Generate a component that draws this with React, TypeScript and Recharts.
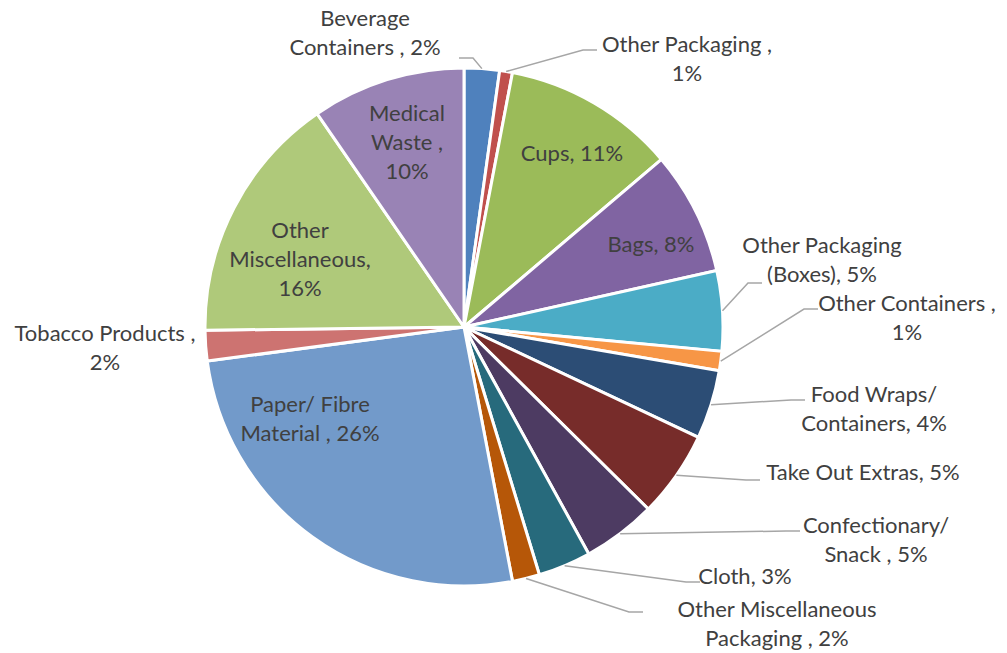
import React from 'react';
import { PieChart, Pie, Cell } from 'recharts';

const categories = [
  'Beverage Containers', 'Other Packaging', 'Cups', 'Bags', 'Other Packaging (Boxes)',
  'Other Containers', 'Food Wraps/ Containers', 'Take Out Extras', 'Confectionary/ Snack', 'Cloth',
  'Other Miscellaneous Packaging', 'Paper/ Fibre Material', 'Tobacco Products', 'Other Miscellaneous', 'Medical Waste',
];
const shares = [2.2, 0.8, 10.8, 7.7, 5.0, 1.2, 4.3, 5.4, 4.6, 3.3, 1.7, 25.9, 1.9, 15.6, 9.6];

// label text broken into lines, the percentage goes on the end of the last one
const labelLines = [
  ['Beverage', 'Containers , '],
  ['Other Packaging ,', ''],
  ['Cups, '],
  ['Bags, '],
  ['Other Packaging', '(Boxes), '],
  ['Other Containers ,', ''],
  ['Food Wraps/', 'Containers, '],
  ['Take Out Extras, '],
  ['Confectionary/', 'Snack , '],
  ['Cloth, '],
  ['Other Miscellaneous', 'Packaging , '],
  ['Paper/ Fibre', 'Material , '],
  ['Tobacco Products ,', ''],
  ['Other', 'Miscellaneous,', ''],
  ['Medical', 'Waste ,', ''],
];

const colors = [
  '#4F81BD', '#C0504D', '#9BBB59', '#8064A2', '#4BACC6', '#F79646', '#2C4D75', '#772C2A',
  '#4D3B62', '#276A7C', '#B65708', '#729ACA', '#CD7371', '#AFC97A', '#9983B5',
];

// where each label sits, relative to the pie centre (tx, ty = text centre, ex, ey = leader end)
const labelPlace = [
  { tx: -99, ty: -296, ex: -5, ey: -269 },
  { tx: 223, ty: -270, ex: 133, ey: -277 },
  { tx: 108, ty: -175 },
  { tx: 187, ty: -84 },
  { tx: 358, ty: -69, ex: 298, ey: -44 },
  { tx: 443, ty: -11, ex: 354, ey: -18 },
  { tx: 410, ty: 80, ex: 341, ey: 73 },
  { tx: 399, ty: 144, ex: 296, ey: 153 },
  { tx: 412, ty: 211, ex: 336, ey: 204 },
  { tx: 281, ty: 248, ex: 236, ey: 255 },
  { tx: 313, ty: 295, ex: 179, ey: 285 },
  { tx: -154, ty: 90 },
  { tx: -359, ty: 19 },
  { tx: -164, ty: -69 },
  { tx: -57, ty: -186 },
];

const data = categories.map((name, i) => ({ name, value: shares[i] }));

const W = 1007;
const H = 653;
const LINE_H = 29;
const RAD = Math.PI / 180;

const renderLabel = (props: any) => {
  const { cx, cy, midAngle, outerRadius, percent, index } = props;
  const place = labelPlace[index];
  const lines = labelLines[index].slice();
  lines[lines.length - 1] = lines[lines.length - 1] + Math.round(percent * 100) + '%';
  const x = Number(cx) + place.tx;
  const y0 = Number(cy) + place.ty - ((lines.length - 1) * LINE_H) / 2;

  let leader = null;
  if (place.ex !== undefined) {
    const sx = Number(cx) + outerRadius * Math.cos(-midAngle * RAD);
    const sy = Number(cy) + outerRadius * Math.sin(-midAngle * RAD);
    const exAbs = Number(cx) + place.ex;
    const eyAbs = Number(cy) + place.ey!;
    const bx = place.ex > 0 ? exAbs - 14 : exAbs + 14;
    leader = (
      <polyline
        points={`${sx},${sy} ${bx},${eyAbs} ${exAbs},${eyAbs}`}
        fill="none"
        stroke="#A6A6A6"
        strokeWidth={1.5}
      />
    );
  }

  return (
    <g key={`lbl-${index}`}>
      {leader}
      <text
        x={x}
        y={y0}
        textAnchor="middle"
        dominantBaseline="central"
        fill="#404040"
        fontSize={22}
        fontFamily="Lato, 'Open Sans', sans-serif"
      >
        {lines.map((ln, k) => (
          <tspan key={k} x={x} y={y0 + k * LINE_H}>
            {ln}
          </tspan>
        ))}
      </text>
    </g>
  );
};

export default function App() {
  return (
    <div style={{ position: 'absolute', left: 0, top: 0, width: W, height: H, background: '#fff' }}>
      <PieChart width={W} height={H} margin={{ top: 0, right: 0, bottom: 0, left: 0 }}>
        <Pie
          data={data}
          dataKey="value"
          nameKey="name"
          cx={464}
          cy={327}
          outerRadius={259}
          startAngle={90}
          endAngle={-270}
          stroke="#FFFFFF"
          strokeWidth={3}
          label={renderLabel}
          labelLine={false}
          isAnimationActive={false}
        >
          {data.map((d, i) => (
            <Cell key={d.name} fill={colors[i]} />
          ))}
        </Pie>
      </PieChart>
    </div>
  );
}
